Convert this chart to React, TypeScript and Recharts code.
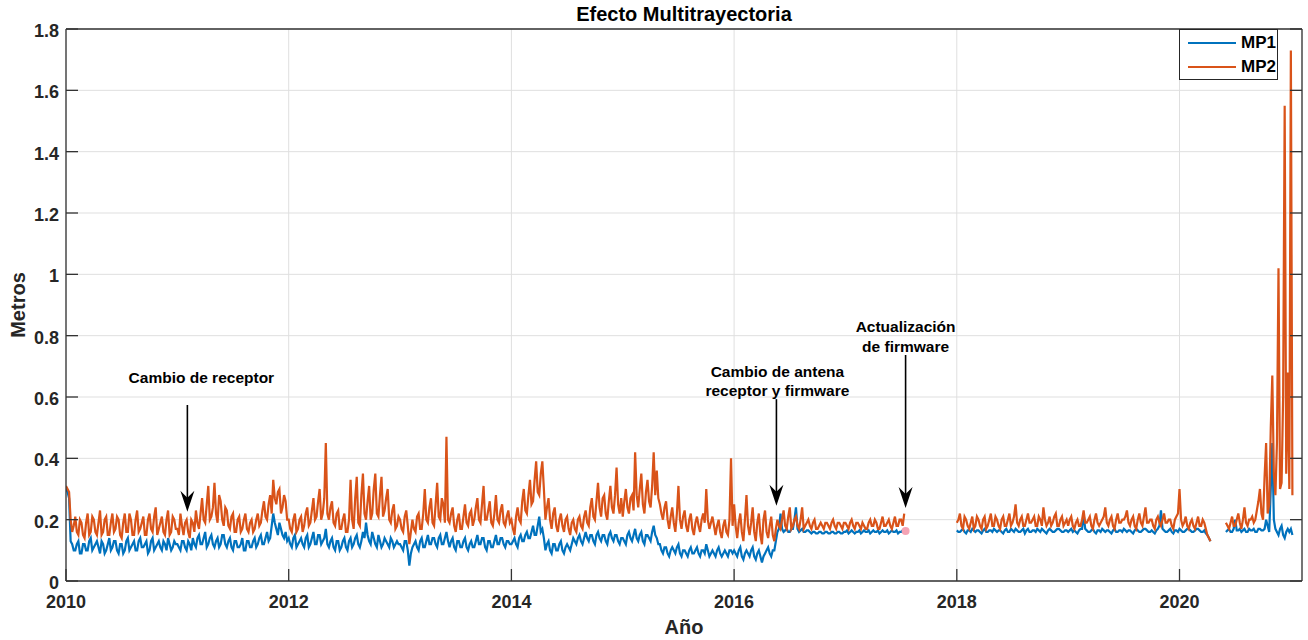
import React from 'react';
import { LineChart, Line, XAxis, YAxis, CartesianGrid, ReferenceLine, ReferenceDot } from 'recharts';

const FONT = "'Liberation Sans', Arial, Helvetica, sans-serif";
const FRAME = '#333333';
const GRID = '#dfdfdf';
const MP1_COLOR = '#0072bd';
const MP2_COLOR = '#d95319';

// ~5 day sampling: "a" arrays hold samples at i/36 of the year,
// "b" arrays the samples halfway between them (null = no data)
const SAMPLES_PER_YEAR = 36;

const mp1_2010 = [0.3,0.27,0.12,0.1,0.13,0.09,0.12,0.1,0.14,0.11,0.13,0.09,0.12,0.1,0.14,0.11,0.13,0.09,0.12,0.1,0.14,0.11,0.13,0.1,0.14,0.11,0.13,0.1,0.14,0.11,0.13,0.1,0.12,0.14,0.1,0.13];
const mp1b_2010 = [0.29,0.13,0.1,0.12,0.09,0.12,0.1,0.13,0.1,0.12,0.11,0.13,0.09,0.12,0.1,0.13,0.1,0.12,0.09,0.13,0.1,0.12,0.1,0.13,0.11,0.12,0.09,0.13,0.1,0.12,0.11,0.13,0.1,0.12,0.11,0.12];
const mp2_2010 = [0.31,0.29,0.16,0.21,0.15,0.19,0.14,0.22,0.16,0.2,0.15,0.23,0.16,0.21,0.15,0.22,0.17,0.2,0.14,0.22,0.16,0.2,0.15,0.23,0.17,0.21,0.15,0.22,0.16,0.24,0.17,0.21,0.15,0.23,0.16,0.2];
const mp2b_2010 = [0.3,0.2,0.18,0.16,0.2,0.15,0.19,0.15,0.21,0.16,0.19,0.15,0.2,0.15,0.19,0.16,0.21,0.15,0.19,0.16,0.22,0.15,0.2,0.16,0.19,0.15,0.2,0.17,0.21,0.15,0.19,0.16,0.2,0.15,0.21,0.17];

const mp1_2011 = [0.12,0.1,0.13,0.1,0.12,0.14,0.11,0.15,0.12,0.16,0.12,0.15,0.11,0.14,0.12,0.15,0.11,0.14,0.1,0.13,0.11,0.14,0.1,0.13,0.11,0.14,0.12,0.15,0.12,0.16,0.14,0.22,0.17,0.19,0.15,0.16];
const mp1b_2011 = [0.11,0.13,0.11,0.13,0.1,0.12,0.14,0.12,0.14,0.11,0.14,0.12,0.13,0.11,0.15,0.12,0.13,0.11,0.13,0.11,0.12,0.1,0.13,0.11,0.13,0.11,0.14,0.12,0.14,0.13,0.18,0.19,0.15,0.17,0.14,0.13];
const mp2_2011 = [0.17,0.22,0.15,0.2,0.14,0.19,0.23,0.17,0.27,0.19,0.31,0.21,0.32,0.19,0.26,0.18,0.23,0.17,0.22,0.16,0.21,0.17,0.22,0.16,0.2,0.17,0.22,0.19,0.26,0.2,0.28,0.33,0.25,0.3,0.24,0.26];
const mp2b_2011 = [0.15,0.18,0.19,0.16,0.2,0.16,0.19,0.22,0.2,0.25,0.2,0.24,0.22,0.28,0.2,0.24,0.18,0.21,0.16,0.2,0.16,0.2,0.17,0.19,0.16,0.2,0.18,0.23,0.21,0.25,0.22,0.27,0.29,0.22,0.28,0.2];

const mp1_2012 = [0.14,0.11,0.15,0.12,0.14,0.11,0.15,0.12,0.16,0.12,0.15,0.13,0.17,0.11,0.14,0.1,0.13,0.11,0.14,0.1,0.14,0.12,0.15,0.11,0.16,0.19,0.13,0.16,0.12,0.15,0.11,0.14,0.12,0.14,0.11,0.13];
const mp1b_2012 = [0.12,0.14,0.11,0.13,0.12,0.14,0.11,0.14,0.12,0.15,0.12,0.14,0.12,0.13,0.11,0.13,0.1,0.13,0.11,0.13,0.11,0.14,0.12,0.13,0.14,0.15,0.12,0.14,0.11,0.13,0.12,0.13,0.11,0.13,0.12,0.12];
const mp2_2012 = [0.2,0.16,0.22,0.17,0.21,0.18,0.24,0.19,0.27,0.21,0.3,0.22,0.45,0.2,0.26,0.18,0.23,0.17,0.22,0.16,0.33,0.17,0.34,0.18,0.35,0.2,0.31,0.22,0.35,0.21,0.34,0.23,0.3,0.19,0.25,0.18];
const mp2b_2012 = [0.17,0.2,0.16,0.2,0.16,0.22,0.18,0.23,0.2,0.26,0.2,0.27,0.22,0.24,0.19,0.22,0.17,0.2,0.16,0.2,0.2,0.27,0.19,0.28,0.22,0.26,0.2,0.3,0.22,0.28,0.21,0.27,0.2,0.23,0.17,0.21];

const mp1_2013 = [0.12,0.1,0.13,0.05,0.11,0.13,0.1,0.14,0.11,0.15,0.12,0.14,0.11,0.15,0.12,0.16,0.11,0.14,0.1,0.13,0.11,0.14,0.1,0.13,0.11,0.15,0.12,0.14,0.1,0.13,0.11,0.15,0.12,0.14,0.11,0.13];
const mp1b_2013 = [0.11,0.13,0.1,0.09,0.12,0.11,0.13,0.11,0.13,0.12,0.14,0.12,0.14,0.12,0.14,0.13,0.13,0.11,0.13,0.11,0.13,0.11,0.12,0.11,0.13,0.12,0.14,0.11,0.13,0.11,0.13,0.12,0.14,0.12,0.13,0.12];
const mp2_2013 = [0.2,0.16,0.23,0.12,0.2,0.16,0.22,0.17,0.3,0.19,0.27,0.18,0.32,0.2,0.25,0.47,0.19,0.24,0.16,0.22,0.17,0.25,0.18,0.23,0.2,0.27,0.19,0.31,0.2,0.26,0.18,0.28,0.19,0.25,0.18,0.23];
const mp2b_2013 = [0.17,0.21,0.18,0.16,0.17,0.21,0.17,0.22,0.2,0.24,0.19,0.25,0.21,0.27,0.19,0.2,0.22,0.18,0.2,0.17,0.21,0.19,0.22,0.18,0.24,0.2,0.25,0.2,0.23,0.19,0.22,0.2,0.23,0.19,0.21,0.19];

const mp1_2014 = [0.12,0.14,0.11,0.15,0.13,0.16,0.14,0.18,0.15,0.21,0.17,0.1,0.13,0.09,0.12,0.1,0.13,0.09,0.12,0.1,0.14,0.12,0.15,0.12,0.16,0.13,0.15,0.12,0.16,0.13,0.15,0.12,0.16,0.13,0.15,0.12];
const mp1b_2014 = [0.13,0.12,0.14,0.13,0.15,0.14,0.16,0.15,0.18,0.16,0.14,0.12,0.1,0.12,0.1,0.12,0.1,0.11,0.11,0.12,0.13,0.14,0.13,0.14,0.14,0.15,0.13,0.15,0.14,0.15,0.13,0.15,0.14,0.15,0.13,0.14];
const mp2_2014 = [0.2,0.15,0.24,0.19,0.3,0.22,0.33,0.26,0.39,0.28,0.39,0.2,0.27,0.17,0.24,0.16,0.22,0.16,0.21,0.15,0.2,0.16,0.21,0.17,0.23,0.18,0.27,0.2,0.32,0.21,0.28,0.2,0.31,0.22,0.37,0.22];
const mp2b_2014 = [0.17,0.21,0.2,0.26,0.23,0.28,0.25,0.33,0.29,0.35,0.3,0.24,0.2,0.22,0.18,0.2,0.18,0.2,0.17,0.19,0.17,0.2,0.18,0.21,0.19,0.24,0.21,0.26,0.24,0.27,0.22,0.26,0.24,0.28,0.25,0.27];

const mp1_2015 = [0.14,0.12,0.16,0.13,0.17,0.13,0.16,0.12,0.15,0.13,0.18,0.14,0.12,0.09,0.11,0.08,0.11,0.09,0.12,0.08,0.1,0.08,0.11,0.09,0.11,0.08,0.1,0.12,0.08,0.1,0.08,0.11,0.08,0.1,0.08,0.1];
const mp1b_2015 = [0.13,0.15,0.14,0.15,0.14,0.15,0.13,0.15,0.14,0.16,0.15,0.12,0.1,0.11,0.09,0.1,0.1,0.11,0.09,0.1,0.09,0.1,0.09,0.1,0.09,0.1,0.09,0.1,0.09,0.09,0.1,0.09,0.09,0.09,0.1,0.09];
const mp2_2015 = [0.21,0.3,0.22,0.28,0.42,0.24,0.35,0.22,0.33,0.24,0.42,0.36,0.25,0.2,0.26,0.17,0.24,0.16,0.31,0.17,0.23,0.16,0.22,0.15,0.21,0.16,0.22,0.3,0.17,0.21,0.15,0.2,0.14,0.2,0.15,0.4];
const mp2b_2015 = [0.26,0.24,0.27,0.23,0.28,0.3,0.25,0.29,0.26,0.31,0.28,0.27,0.22,0.24,0.2,0.21,0.19,0.22,0.2,0.21,0.18,0.2,0.17,0.19,0.18,0.2,0.19,0.2,0.19,0.18,0.18,0.16,0.18,0.16,0.2,0.18];

const mp1_2016 = [0.1,0.08,0.11,0.07,0.1,0.08,0.11,0.07,0.1,0.06,0.09,0.11,0.08,0.1,0.16,0.22,0.16,0.17,0.16,0.17,0.24,0.16,0.17,0.16,0.165,0.155,0.16,0.155,0.16,0.155,0.16,0.155,0.16,0.155,0.16,0.155];
const mp1b_2016 = [0.09,0.1,0.08,0.09,0.09,0.1,0.08,0.09,0.08,0.08,0.1,0.09,0.1,0.13,0.17,0.17,0.165,0.16,0.17,0.2,0.17,0.165,0.16,0.165,0.16,0.16,0.155,0.16,0.155,0.16,0.155,0.16,0.155,0.16,0.155,0.16];
const mp2_2016 = [0.25,0.14,0.22,0.13,0.28,0.15,0.24,0.13,0.22,0.12,0.23,0.14,0.21,0.13,0.2,0.17,0.23,0.17,0.24,0.18,0.21,0.17,0.24,0.18,0.2,0.17,0.2,0.17,0.19,0.17,0.19,0.17,0.2,0.17,0.19,0.17];
const mp2b_2016 = [0.18,0.19,0.16,0.2,0.18,0.19,0.16,0.19,0.15,0.2,0.16,0.18,0.15,0.17,0.18,0.2,0.18,0.21,0.17,0.2,0.18,0.2,0.17,0.19,0.18,0.19,0.17,0.18,0.18,0.19,0.18,0.19,0.18,0.19,0.18,0.19];

const mp1_2017 = [0.16,0.155,0.165,0.155,0.16,0.155,0.165,0.16,0.155,0.165,0.16,0.155,0.165,0.16,0.155,0.165,0.16,0.155,0.16,0.165,null,null,null,null,null,null,null,null,null,null,null,null,null,null,null,null];
const mp1b_2017 = [0.165,0.16,0.16,0.16,0.165,0.16,0.16,0.165,0.16,0.16,0.165,0.16,0.16,0.165,0.16,0.16,0.165,0.16,0.165,null,null,null,null,null,null,null,null,null,null,null,null,null,null,null,null,null];
const mp2_2017 = [0.19,0.17,0.2,0.17,0.19,0.17,0.18,0.17,0.2,0.18,0.19,0.17,0.21,0.18,0.2,0.17,0.21,0.18,0.2,0.22,null,null,null,null,null,null,null,null,null,null,null,null,null,null,null,null];
const mp2b_2017 = [0.18,0.19,0.18,0.19,0.18,0.19,0.17,0.19,0.18,0.2,0.17,0.19,0.18,0.19,0.18,0.19,0.18,0.2,0.18,null,null,null,null,null,null,null,null,null,null,null,null,null,null,null,null,null];

const mp1_2018 = [0.165,0.16,0.17,0.155,0.165,0.17,0.16,0.165,0.155,0.17,0.16,0.165,0.17,0.16,0.165,0.155,0.17,0.16,0.165,0.17,0.16,0.165,0.155,0.17,0.16,0.165,0.17,0.16,0.165,0.155,0.17,0.16,0.165,0.17,0.16,0.165];
const mp1b_2018 = [0.16,0.165,0.16,0.165,0.16,0.165,0.165,0.16,0.165,0.16,0.165,0.16,0.165,0.165,0.16,0.165,0.16,0.17,0.16,0.165,0.16,0.17,0.165,0.16,0.165,0.16,0.165,0.17,0.16,0.165,0.165,0.16,0.17,0.165,0.16,0.165];
const mp2_2018 = [0.19,0.22,0.17,0.2,0.17,0.21,0.18,0.2,0.17,0.21,0.18,0.22,0.18,0.2,0.17,0.21,0.18,0.22,0.19,0.25,0.18,0.21,0.18,0.22,0.19,0.21,0.18,0.2,0.24,0.18,0.21,0.19,0.22,0.18,0.21,0.19];
const mp2b_2018 = [0.2,0.18,0.21,0.18,0.19,0.17,0.21,0.18,0.2,0.17,0.2,0.18,0.21,0.18,0.2,0.18,0.2,0.18,0.21,0.19,0.2,0.18,0.2,0.19,0.2,0.18,0.21,0.18,0.2,0.19,0.18,0.21,0.18,0.2,0.18,0.2];

const mp1_2019 = [0.16,0.17,0.165,0.155,0.17,0.22,0.165,0.16,0.17,0.155,0.165,0.17,0.16,0.165,0.155,0.17,0.16,0.165,0.17,0.16,0.165,0.155,0.17,0.16,0.165,0.17,0.16,0.165,0.155,0.17,0.23,0.165,0.16,0.17,0.155,0.165];
const mp1b_2019 = [0.165,0.16,0.16,0.165,0.17,0.17,0.16,0.165,0.16,0.165,0.16,0.165,0.165,0.16,0.165,0.16,0.165,0.16,0.165,0.165,0.16,0.165,0.165,0.16,0.17,0.165,0.16,0.16,0.165,0.18,0.17,0.16,0.165,0.16,0.165,0.16];
const mp2_2019 = [0.18,0.21,0.17,0.2,0.18,0.23,0.19,0.21,0.17,0.22,0.18,0.2,0.24,0.18,0.21,0.17,0.22,0.19,0.2,0.23,0.18,0.21,0.17,0.22,0.18,0.24,0.19,0.2,0.17,0.21,0.18,0.22,0.19,0.2,0.17,0.21];
const mp2b_2019 = [0.2,0.18,0.19,0.18,0.2,0.19,0.2,0.18,0.2,0.19,0.19,0.21,0.19,0.2,0.18,0.2,0.19,0.2,0.21,0.19,0.2,0.18,0.2,0.19,0.21,0.19,0.2,0.18,0.2,0.19,0.2,0.19,0.2,0.18,0.2,0.22];

const mp1_2020 = [0.17,0.16,0.165,0.17,0.16,0.165,0.17,0.16,0.165,0.15,0.13,null,null,null,null,0.16,0.17,0.16,0.2,0.165,0.16,0.17,0.16,0.165,0.17,0.16,0.17,0.165,0.2,0.16,0.45,0.17,0.15,0.18,0.14,0.17];
const mp1b_2020 = [0.165,0.16,0.17,0.165,0.16,0.17,0.165,0.16,0.155,0.14,null,null,null,null,null,0.165,0.16,0.17,0.165,0.17,0.165,0.16,0.17,0.165,0.16,0.17,0.165,0.17,0.18,0.3,0.2,0.16,0.17,0.15,0.16,0.16];
const mp2_2020 = [0.3,0.18,0.21,0.17,0.2,0.17,0.21,0.18,0.19,0.15,0.13,null,null,null,null,0.19,0.17,0.21,0.18,0.22,0.17,0.24,0.18,0.2,0.19,0.23,0.3,0.2,0.45,0.25,0.67,0.28,1.02,0.32,1.55,0.68];
const mp2b_2020 = [0.2,0.19,0.18,0.19,0.18,0.19,0.18,0.2,0.17,0.14,null,null,null,null,null,0.18,0.19,0.18,0.2,0.19,0.2,0.19,0.2,0.21,0.2,0.26,0.22,0.34,0.22,0.5,0.35,0.45,0.3,0.6,0.35,0.3];

const mp1_2021 = [0.17];
const mp1b_2021 = [0.15];
const mp2_2021 = [1.73];
const mp2b_2021 = [0.28];

const years = [2010, 2011, 2012, 2013, 2014, 2015, 2016, 2017, 2018, 2019, 2020, 2021];
const mp1A = [mp1_2010, mp1_2011, mp1_2012, mp1_2013, mp1_2014, mp1_2015, mp1_2016, mp1_2017, mp1_2018, mp1_2019, mp1_2020, mp1_2021];
const mp1B = [mp1b_2010, mp1b_2011, mp1b_2012, mp1b_2013, mp1b_2014, mp1b_2015, mp1b_2016, mp1b_2017, mp1b_2018, mp1b_2019, mp1b_2020, mp1b_2021];
const mp2A = [mp2_2010, mp2_2011, mp2_2012, mp2_2013, mp2_2014, mp2_2015, mp2_2016, mp2_2017, mp2_2018, mp2_2019, mp2_2020, mp2_2021];
const mp2B = [mp2b_2010, mp2b_2011, mp2b_2012, mp2b_2013, mp2b_2014, mp2b_2015, mp2b_2016, mp2b_2017, mp2b_2018, mp2b_2019, mp2b_2020, mp2b_2021];

const xTicks = [2010, 2012, 2014, 2016, 2018, 2020];
const yTicks = [0, 0.2, 0.4, 0.6, 0.8, 1, 1.2, 1.4, 1.6, 1.8];

const annotations = [
  { x: 2011.09, top: 0.574, tip: 0.226, lines: ['Cambio de receptor'], dx: 14, gap: 22 },
  { x: 2016.38, top: 0.593, tip: 0.245, lines: ['Cambio de antena', 'receptor y firmware'], dx: 1, gap: 3 },
  { x: 2017.54, top: 0.737, tip: 0.238, lines: ['Actualización', 'de firmware'], dx: 0, gap: 3 },
];

const data: { t: number; mp1: number | null; mp2: number | null }[] = [];
years.forEach((yr, k) => {
  mp1A[k].forEach((v, i) => {
    data.push({ t: yr + i / SAMPLES_PER_YEAR, mp1: v, mp2: mp2A[k][i] });
    data.push({ t: yr + (i + 0.5) / SAMPLES_PER_YEAR, mp1: mp1B[k][i], mp2: mp2B[k][i] });
  });
});

const tickText = { fontFamily: FONT, fontWeight: 700, fontSize: 18, fill: '#262626' };

// axes are 1px wide/high so Recharts still draws them; tick marks point inward like MATLAB
const LeftTick = (p: any) => (
  <g>
    <line x1={p.x} x2={p.x + 12} y1={p.y} y2={p.y} stroke={FRAME} strokeWidth={1.3} />
    <text x={p.x - 7} y={p.y + 8} textAnchor="end" style={tickText}>{String(p.payload.value)}</text>
  </g>
);
const RightTick = (p: any) => (
  <line x1={p.x} x2={p.x - 12} y1={p.y} y2={p.y} stroke={FRAME} strokeWidth={1.3} />
);
const BottomTick = (p: any) => (
  <g>
    <line x1={p.x} x2={p.x} y1={p.y} y2={p.y - 12} stroke={FRAME} strokeWidth={1.3} />
    <text x={p.x} y={p.y + 27} textAnchor="middle" style={tickText}>{String(p.payload.value)}</text>
  </g>
);
const TopTick = (p: any) => (
  <line x1={p.x} x2={p.x} y1={p.y} y2={p.y + 12} stroke={FRAME} strokeWidth={1.3} />
);

const makeArrow = (a: (typeof annotations)[number]) => (p: any) => {
  const x = p.x1;
  const top = Math.min(p.y1, p.y2);
  const tip = Math.max(p.y1, p.y2);
  const n = a.lines.length;
  return (
    <g>
      <line x1={x} x2={x} y1={top} y2={tip - 12} stroke="#000" strokeWidth={1.6} />
      <path d={`M${x},${tip} L${x - 7},${tip - 21} L${x},${tip - 14} L${x + 7},${tip - 21} Z`} fill="#000" />
      {a.lines.map((s, i) => (
        <text
          key={i}
          x={x + a.dx}
          y={top - a.gap - (n - 1 - i) * 19.5}
          textAnchor="middle"
          style={{ fontFamily: FONT, fontWeight: 700, fontSize: 15.5, fill: '#000' }}
        >
          {s}
        </text>
      ))}
    </g>
  );
};

const axisLine = { stroke: FRAME, strokeWidth: 1.3 };

export default function App() {
  return (
    <div style={{ position: 'absolute', left: 0, top: 0, width: 1308, height: 640, background: '#fff', fontFamily: FONT }}>
      <LineChart width={1308} height={640} data={data} margin={{ top: 28, right: 5, bottom: 58, left: 65 }}>
        <CartesianGrid stroke={GRID} strokeWidth={1} />
        <XAxis
          dataKey="t"
          type="number"
          domain={[2010, 2021.1]}
          ticks={xTicks}
          interval={0}
          height={1}
          tickSize={0}
          tickMargin={0}
          tickLine={false}
          allowDataOverflow
          axisLine={axisLine}
          tick={BottomTick}
        />
        <XAxis
          xAxisId="top"
          orientation="top"
          type="number"
          domain={[2010, 2021.1]}
          ticks={xTicks}
          interval={0}
          height={1}
          tickSize={0}
          tickMargin={0}
          tickLine={false}
          allowDataOverflow
          axisLine={axisLine}
          tick={TopTick}
        />
        <YAxis
          type="number"
          domain={[0, 1.8]}
          ticks={yTicks}
          interval={0}
          width={1}
          tickSize={0}
          tickMargin={0}
          tickLine={false}
          allowDataOverflow
          axisLine={axisLine}
          tick={LeftTick}
        />
        <YAxis
          yAxisId="right"
          orientation="right"
          type="number"
          domain={[0, 1.8]}
          ticks={yTicks}
          interval={0}
          width={1}
          tickSize={0}
          tickMargin={0}
          tickLine={false}
          allowDataOverflow
          axisLine={axisLine}
          tick={RightTick}
        />
        <Line dataKey="mp1" stroke={MP1_COLOR} strokeWidth={2.2} dot={false} isAnimationActive={false} />
        <Line dataKey="mp2" stroke={MP2_COLOR} strokeWidth={2.2} dot={false} isAnimationActive={false} />
        <ReferenceDot x={2017.54} y={0.163} r={4} fill="#f4a3b4" stroke="none" />
        {annotations.map((a, i) => (
          <ReferenceLine
            key={i}
            segment={[{ x: a.x, y: a.top }, { x: a.x, y: a.tip }]}
            shape={makeArrow(a)}
          />
        ))}
      </LineChart>

      <div style={{ position: 'absolute', left: 0, width: 1368, top: 4, textAlign: 'center', fontSize: 20, fontWeight: 700, lineHeight: '20px', color: '#000' }}>
        Efecto Multitrayectoria
      </div>
      <div style={{ position: 'absolute', left: 0, width: 1368, top: 617, textAlign: 'center', fontSize: 20, fontWeight: 700, lineHeight: '20px', color: '#262626' }}>
        Año
      </div>
      <div
        style={{
          position: 'absolute', left: 18 - 50, top: 305 - 10, width: 100, textAlign: 'center',
          fontSize: 20, fontWeight: 700, lineHeight: '20px', color: '#262626', transform: 'rotate(-90deg)',
        }}
      >
        Metros
      </div>

      <div style={{ position: 'absolute', left: 1179, top: 29, width: 99, height: 51, background: '#fff', border: '1px solid #262626', boxSizing: 'border-box' }}>
        {[{ name: 'MP1', color: MP1_COLOR }, { name: 'MP2', color: MP2_COLOR }].map((it, i) => (
          <div key={it.name} style={{ position: 'absolute', left: 0, top: 3 + i * 24, height: 20, width: 99, display: 'flex', alignItems: 'center' }}>
            <div style={{ marginLeft: 8, width: 48, height: 1.5, background: it.color }} />
            <span style={{ marginLeft: 5, fontSize: 17, fontWeight: 700, color: '#000' }}>{it.name}</span>
          </div>
        ))}
      </div>
    </div>
  );
}
